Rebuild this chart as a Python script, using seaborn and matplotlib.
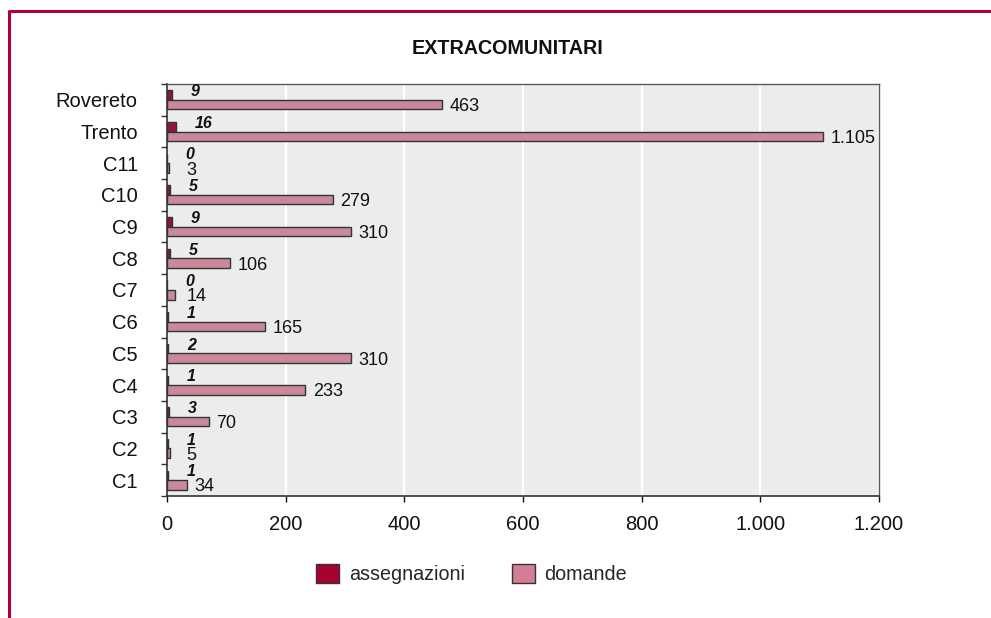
import numpy as np
import pandas as pd
import matplotlib
matplotlib.use("Agg")
import matplotlib.pyplot as plt
from matplotlib.lines import Line2D
from matplotlib.ticker import FuncFormatter
import seaborn as sns

categories = ["Rovereto", "Trento", "C11", "C10", "C9", "C8", "C7",
              "C6", "C5", "C4", "C3", "C2", "C1"]
assegnazioni = [9, 16, 0, 5, 9, 5, 0, 1, 2, 1, 3, 1, 1]
domande = [463, 1105, 3, 279, 310, 106, 14, 165, 310, 233, 70, 5, 34]
series = ["assegnazioni", "domande"]
colors = ["#a8002f", "#d47e95"]
xticks = [0, 200, 400, 600, 800, 1000, 1200]


def it_num(v, pos=None):
    return f"{int(v):,}".replace(",", ".")


df = pd.DataFrame({
    "zona": categories * 2,
    "valore": assegnazioni + domande,
    "serie": [series[0]] * len(categories) + [series[1]] * len(categories),
})

sns.set_style("white")
plt.rcParams["font.family"] = ["Liberation Sans", "DejaVu Sans"]

fig = plt.figure(figsize=(9.91, 6.18), dpi=100)
ax = fig.add_axes([0.1685, 0.1974, 0.7185, 0.6667])

sns.barplot(data=df, y="zona", x="valore", hue="serie", order=categories,
            hue_order=series, palette=colors, orient="h", width=0.6,
            edgecolor="#333333", linewidth=1.0, legend=False, ax=ax)

ax.set_facecolor("#ebecec")
ax.set_xlim(0, 1200)
ax.set_ylim(12.5, -0.5)
ax.set_xticks(xticks)
ax.xaxis.set_major_formatter(FuncFormatter(it_num))
ax.grid(axis="x", color="white", linewidth=1.6)
ax.grid(axis="y", visible=False)
ax.set_axisbelow(True)
ax.set_xlabel("")
ax.set_ylabel("")

ax.set_yticks(np.arange(-0.5, len(categories), 1), minor=True)
ax.tick_params(axis="y", which="major", length=0, pad=21, labelsize=14.5,
               colors="#111111")
ax.tick_params(axis="y", which="minor", length=4, width=1, direction="out",
               color="#333333", left=True)
ax.tick_params(axis="x", which="major", length=4, width=1, direction="out",
               pad=10, labelsize=14.5, colors="#111111", bottom=True)

for side in ["left", "bottom"]:
    ax.spines[side].set_color("#333333")
    ax.spines[side].set_linewidth(1.2)
for side in ["top", "right"]:
    ax.spines[side].set_color("#5a5a5a")
    ax.spines[side].set_linewidth(1.0)

# value labels
for i, (a, d) in enumerate(zip(assegnazioni, domande)):
    ax.annotate(str(a), xy=(a, i - 0.15), xytext=(13.5, 2.5),
                textcoords="offset points", ha="left", va="center",
                fontsize=11.5, fontweight="bold", fontstyle="italic",
                color="#111111")
    ax.annotate(it_num(d), xy=(max(d, 20), i + 0.15), xytext=(5.5, -1.5),
                textcoords="offset points", ha="left", va="center",
                fontsize=13, color="#111111")

fig.text(0.512, 0.922, "EXTRACOMUNITARI", ha="center", va="center",
         fontsize=14.2, fontweight="bold", color="#111111")

handles = [plt.Rectangle((0, 0), 1, 1, facecolor=c, edgecolor="#333333",
                         linewidth=1.0) for c in colors]
fig.legend(handles, series, loc="center", bbox_to_anchor=(0.476, 0.071),
           ncol=2, frameon=False, fontsize=14.2, handlelength=1.15,
           handleheight=1.15, handletextpad=0.5, columnspacing=2.4)

# red frame
frame_color = "#b0003a"
x0 = 8.5 / 991
y0 = 1 - 10.5 / 618
fig.add_artist(Line2D([x0, x0, 1.0], [0.0, y0, y0], transform=fig.transFigure,
                      color=frame_color, linewidth=2.2))

fig.savefig("out.png", dpi=100)
